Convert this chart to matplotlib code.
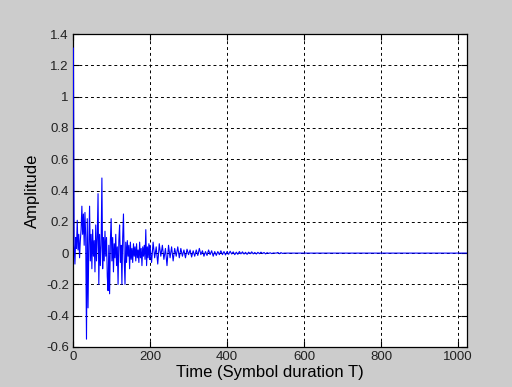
import numpy as np
import matplotlib
matplotlib.use("Agg")
import matplotlib.pyplot as plt

# early part of the response, every 2nd sample (1..199)
t_early = np.arange(1, 200, 2)
y_early = [
    1.31, 0.05, -0.07, 0.10, 0.03, 0.21, 0.02, 0.12, -0.03, 0.08,
    0.15, 0.30, 0.12, 0.25, 0.05, 0.26, 0.10, -0.55, 0.22, -0.35,
    0.05, 0.30, -0.05, 0.12, -0.10, 0.15, -0.02, 0.08, -0.12, 0.18,
    -0.05, 0.10, 0.38, -0.20, 0.12, -0.08, 0.05, 0.48, -0.10, 0.10,
    -0.05, 0.14, -0.02, 0.10, -0.15, -0.24, 0.05, -0.26, 0.08, 0.22,
    -0.05, 0.10, -0.12, 0.06, -0.03, 0.12, -0.08, 0.04, -0.20, 0.08,
    0.18, -0.06, 0.05, -0.20, 0.10, 0.25, -0.04, -0.20, 0.07, -0.06,
    0.08, -0.02, 0.05, -0.10, 0.07, -0.04, 0.03, -0.06, 0.06, -0.02,
    0.04, -0.05, 0.06, -0.03, 0.02, -0.06, 0.07, -0.03, 0.03, -0.08,
    0.04, -0.02, 0.05, -0.04, 0.15, -0.08, 0.04, -0.03, 0.06, -0.04,
]

# decaying tail, every 4th sample (200..556)
t_mid = np.arange(200, 560, 4)
y_mid = [
    0.05, -0.06, 0.07, -0.03, 0.04, -0.07, 0.06, -0.02, 0.05, -0.04,
    0.03, -0.08, 0.05, -0.03, 0.04, -0.05, 0.03, -0.02, 0.04, -0.03,
    0.03, -0.02, 0.02, -0.03, 0.025, -0.01, 0.02, -0.025, 0.015, -0.02,
    0.02, -0.015, 0.03, -0.01, 0.015, -0.02, 0.01, -0.015, 0.02, -0.01,
    0.015, -0.02, 0.01, -0.015, 0.01, -0.01, 0.015, -0.01, 0.01, -0.012,
    0.01, -0.008, 0.012, -0.006, 0.008, -0.01, 0.006, -0.008, 0.01, -0.005,
    0.008, -0.006, 0.005, -0.008, 0.006, -0.004, 0.008, -0.005, 0.004, -0.006,
    0.005, -0.004, 0.006, -0.003, 0.004, -0.005, 0.003, -0.002, 0.002, -0.003,
    0.001, 0.0, 0.0, 0.004, -0.004, 0.003, -0.002, 0.0, 0.0, 0.0,
]

# flat end
t_end = [600, 1023]
y_end = [0.0, 0.0]

t = np.concatenate([t_early, t_mid, t_end])
y = np.concatenate([y_early, y_mid, y_end])

plt.rcParams["font.family"] = ["Liberation Sans", "DejaVu Sans"]

fig = plt.figure(figsize=(5.12, 3.87), dpi=100, facecolor="#cccccc")
ax = fig.add_axes([0.1426, 0.1034, 0.7695, 0.8086])
ax.plot(t, y, color="#0000ff", lw=0.8, zorder=3)

ax.set_xlim(0, 1023)
ax.set_ylim(-0.6, 1.4)
ax.set_xticks(np.arange(0, 1001, 200))
ax.set_yticks(np.round(np.arange(-0.6, 1.41, 0.2), 1))
ax.set_yticklabels(["-0.6", "-0.4", "-0.2", "0", "0.2", "0.4", "0.6",
                    "0.8", "1", "1.2", "1.4"])
ax.tick_params(direction="in", top=True, right=True, length=4,
               labelsize=9.5, labelcolor="#222222", pad=3)
ax.grid(True, color="black", linestyle=(0, (3, 3)), lw=0.7)
for s in ax.spines.values():
    s.set_linewidth(0.9)

ax.set_xlabel("Time (Symbol duration T)", fontsize=12, labelpad=1)
ax.set_ylabel("Amplitude", fontsize=12, labelpad=4)

fig.savefig("out.png", dpi=100, facecolor=fig.get_facecolor())
